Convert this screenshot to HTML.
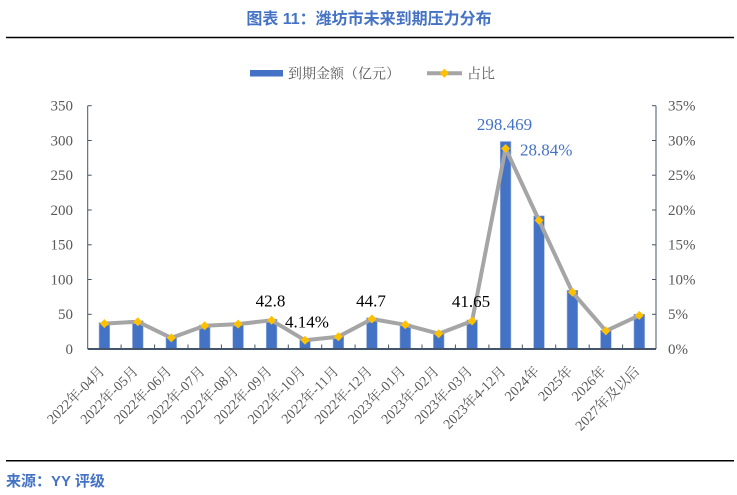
<!DOCTYPE html>
<html>
<head>
<meta charset="utf-8">
<style>
  html, body { margin:0; padding:0; background:#ffffff; }
  body { width:737px; height:495px; overflow:hidden; }
  svg { display:block; }
</style>
</head>
<body>
<svg width="737" height="495" viewBox="0 0 737 495" xmlns="http://www.w3.org/2000/svg">
  <!-- Title -->
  <text x="369" y="24" text-anchor="middle" font-family="'Liberation Sans','Noto Sans CJK SC',sans-serif" font-size="16" font-weight="bold" fill="#4472C4">图表 11：潍坊市未来到期压力分布</text>
  <line x1="6" y1="37.5" x2="734" y2="37.5" stroke="#000" stroke-width="1.5"/>

  <!-- Legend -->
  <rect x="250" y="70" width="33" height="6.5" fill="#4472C4"/>
  <text x="288" y="78.5" font-family="'Liberation Serif','Noto Serif CJK SC',serif" font-size="14" fill="#595959">到期金额（亿元）</text>
  <line x1="427" y1="73.3" x2="462" y2="73.3" stroke="#A5A5A5" stroke-width="4"/>
  <polygon points="444.3,68.8 448.8,73.3 444.3,77.8 439.8,73.3" fill="#FFC000"/>
  <text x="467" y="78.5" font-family="'Liberation Serif','Noto Serif CJK SC',serif" font-size="14" fill="#595959">占比</text>

  <!-- Left axis -->
  <g font-family="'Liberation Serif',serif" font-size="15" fill="#595959" text-anchor="end">
    <text x="73" y="110.5">350</text>
    <text x="73" y="145.3">300</text>
    <text x="73" y="180">250</text>
    <text x="73" y="214.8">200</text>
    <text x="73" y="249.6">150</text>
    <text x="73" y="284.4">100</text>
    <text x="73" y="319.1">50</text>
    <text x="73" y="353.9">0</text>
  </g>
  <g font-family="'Liberation Serif',serif" font-size="15" fill="#595959" text-anchor="start">
    <text x="668" y="110.5">35%</text>
    <text x="668" y="145.3">30%</text>
    <text x="668" y="180">25%</text>
    <text x="668" y="214.8">20%</text>
    <text x="668" y="249.6">15%</text>
    <text x="668" y="284.4">10%</text>
    <text x="668" y="319.1">5%</text>
    <text x="668" y="353.9">0%</text>
  </g>

  <g stroke="#44546A" stroke-width="1">
    <line x1="87.7" y1="105.7" x2="87.7" y2="349"/>
    <line x1="87.7" y1="105.7" x2="91.7" y2="105.7"/>
    <line x1="87.7" y1="140.5" x2="91.7" y2="140.5"/>
    <line x1="87.7" y1="175.2" x2="91.7" y2="175.2"/>
    <line x1="87.7" y1="210" x2="91.7" y2="210"/>
    <line x1="87.7" y1="244.8" x2="91.7" y2="244.8"/>
    <line x1="87.7" y1="279.5" x2="91.7" y2="279.5"/>
    <line x1="87.7" y1="314.3" x2="91.7" y2="314.3"/>

    <line x1="656" y1="105.7" x2="656" y2="349"/>
    <line x1="652" y1="105.7" x2="656" y2="105.7"/>
    <line x1="652" y1="140.5" x2="656" y2="140.5"/>
    <line x1="652" y1="175.2" x2="656" y2="175.2"/>
    <line x1="652" y1="210" x2="656" y2="210"/>
    <line x1="652" y1="244.8" x2="656" y2="244.8"/>
    <line x1="652" y1="279.5" x2="656" y2="279.5"/>
    <line x1="652" y1="314.3" x2="656" y2="314.3"/>
  </g>

  <!-- Bars -->
  <g fill="#4472C4" stroke="#9DB5E0" stroke-width="0.6">
    <rect x="99.05"  y="322.7" width="10.7" height="26.3"/>
    <rect x="132.45" y="320.7" width="10.7" height="28.3"/>
    <rect x="165.95" y="337.5" width="10.7" height="11.5"/>
    <rect x="199.35" y="325.0" width="10.7" height="24.0"/>
    <rect x="232.75" y="323.3" width="10.7" height="25.7"/>
    <rect x="266.25" y="319.2" width="10.7" height="29.8"/>
    <rect x="299.65" y="340.0" width="10.7" height="9.0"/>
    <rect x="333.05" y="336.3" width="10.7" height="12.7"/>
    <rect x="366.55" y="317.9" width="10.7" height="31.1"/>
    <rect x="399.95" y="324.0" width="10.7" height="25.0"/>
    <rect x="433.35" y="333.2" width="10.7" height="15.8"/>
    <rect x="466.75" y="320.0" width="10.7" height="29.0"/>
    <rect x="500.25" y="141.5" width="10.7" height="207.5"/>
    <rect x="533.65" y="215.9" width="10.7" height="133.1"/>
    <rect x="567.05" y="290.3" width="10.7" height="58.7"/>
    <rect x="600.55" y="330.2" width="10.7" height="18.8"/>
    <rect x="633.95" y="314.2" width="10.7" height="34.8"/>
  </g>

  <!-- Bottom axis -->
  <line x1="87.7" y1="349" x2="656" y2="349" stroke="#44546A" stroke-width="2"/>
  <g stroke="#44546A" stroke-width="1">
    <line x1="121.1" y1="344.5" x2="121.1" y2="349"/>
    <line x1="154.6" y1="344.5" x2="154.6" y2="349"/>
    <line x1="188.0" y1="344.5" x2="188.0" y2="349"/>
    <line x1="221.4" y1="344.5" x2="221.4" y2="349"/>
    <line x1="254.9" y1="344.5" x2="254.9" y2="349"/>
    <line x1="288.3" y1="344.5" x2="288.3" y2="349"/>
    <line x1="321.7" y1="344.5" x2="321.7" y2="349"/>
    <line x1="355.1" y1="344.5" x2="355.1" y2="349"/>
    <line x1="388.6" y1="344.5" x2="388.6" y2="349"/>
    <line x1="422.0" y1="344.5" x2="422.0" y2="349"/>
    <line x1="455.4" y1="344.5" x2="455.4" y2="349"/>
    <line x1="488.9" y1="344.5" x2="488.9" y2="349"/>
    <line x1="522.3" y1="344.5" x2="522.3" y2="349"/>
    <line x1="555.7" y1="344.5" x2="555.7" y2="349"/>
    <line x1="589.2" y1="344.5" x2="589.2" y2="349"/>
    <line x1="622.6" y1="344.5" x2="622.6" y2="349"/>
  </g>

  <!-- Line series -->
  <polyline fill="none" stroke="#A5A5A5" stroke-width="4" stroke-linejoin="round"
    points="104.4,323.6 137.8,321.7 171.3,337.9 204.7,325.8 238.1,324.1 271.6,320.3 305.0,340.3 338.4,336.7 371.9,319.0 405.3,324.8 438.7,333.7 472.1,321.0 505.6,148.5 539.0,220.4 572.4,292.2 605.9,330.9 639.3,315.4"/>
  <g fill="#FFC000">
    <polygon points="104.4,319.1 108.9,323.6 104.4,328.1 99.9,323.6"/>
    <polygon points="137.8,317.2 142.3,321.7 137.8,326.2 133.3,321.7"/>
    <polygon points="171.3,333.4 175.8,337.9 171.3,342.4 166.8,337.9"/>
    <polygon points="204.7,321.3 209.2,325.8 204.7,330.3 200.2,325.8"/>
    <polygon points="238.1,319.6 242.6,324.1 238.1,328.6 233.6,324.1"/>
    <polygon points="271.6,315.8 276.1,320.3 271.6,324.8 267.1,320.3"/>
    <polygon points="305.0,335.8 309.5,340.3 305.0,344.8 300.5,340.3"/>
    <polygon points="338.4,332.2 342.9,336.7 338.4,341.2 333.9,336.7"/>
    <polygon points="371.9,314.5 376.4,319.0 371.9,323.5 367.4,319.0"/>
    <polygon points="405.3,320.3 409.8,324.8 405.3,329.3 400.8,324.8"/>
    <polygon points="438.7,329.2 443.2,333.7 438.7,338.2 434.2,333.7"/>
    <polygon points="472.1,316.5 476.6,321.0 472.1,325.5 467.6,321.0"/>
    <polygon points="505.6,144.0 510.1,148.5 505.6,153.0 501.1,148.5"/>
    <polygon points="539.0,215.9 543.5,220.4 539.0,224.9 534.5,220.4"/>
    <polygon points="572.4,287.7 576.9,292.2 572.4,296.7 567.9,292.2"/>
    <polygon points="605.9,326.4 610.4,330.9 605.9,335.4 601.4,330.9"/>
    <polygon points="639.3,310.9 643.8,315.4 639.3,319.9 634.8,315.4"/>
  </g>

  <!-- Data labels -->
  <g font-family="'Liberation Serif',serif" font-size="17" fill="#000">
    <text x="270.5" y="306.7" text-anchor="middle">42.8</text>
    <text x="285" y="327.3">4.14%</text>
    <text x="371" y="306.7" text-anchor="middle">44.7</text>
    <text x="471" y="307" text-anchor="middle">41.65</text>
  </g>
  <g font-family="'Liberation Serif',serif" font-size="17" fill="#4472C4">
    <text x="504.5" y="130" text-anchor="middle">298.469</text>
    <text x="520" y="155.7">28.84%</text>
  </g>

  <!-- Category labels -->
  <g font-family="'Liberation Serif','Noto Serif CJK SC',serif" font-size="14" fill="#595959" text-anchor="end">
    <text transform="translate(105.4,372) rotate(-45)">2022年-04月</text>
    <text transform="translate(138.8,372) rotate(-45)">2022年-05月</text>
    <text transform="translate(172.3,372) rotate(-45)">2022年-06月</text>
    <text transform="translate(205.7,372) rotate(-45)">2022年-07月</text>
    <text transform="translate(239.1,372) rotate(-45)">2022年-08月</text>
    <text transform="translate(272.6,372) rotate(-45)">2022年-09月</text>
    <text transform="translate(306.0,372) rotate(-45)">2022年-10月</text>
    <text transform="translate(339.4,372) rotate(-45)">2022年-11月</text>
    <text transform="translate(372.9,372) rotate(-45)">2022年-12月</text>
    <text transform="translate(406.3,372) rotate(-45)">2023年-01月</text>
    <text transform="translate(439.7,372) rotate(-45)">2023年-02月</text>
    <text transform="translate(473.1,372) rotate(-45)">2023年-03月</text>
    <text transform="translate(506.6,372) rotate(-45)">2023年4-12月</text>
    <text transform="translate(540.0,372) rotate(-45)">2024年</text>
    <text transform="translate(573.4,372) rotate(-45)">2025年</text>
    <text transform="translate(606.9,372) rotate(-45)">2026年</text>
    <text transform="translate(640.3,372) rotate(-45)">2027年及以后</text>
  </g>

  <!-- Footer -->
  <line x1="6" y1="460.7" x2="734" y2="460.7" stroke="#000" stroke-width="1.5"/>
  <text x="6" y="486" font-family="'Liberation Sans','Noto Sans CJK SC',sans-serif" font-size="15" font-weight="bold" fill="#4472C4">来源：YY 评级</text>
</svg>
</body>
</html>
